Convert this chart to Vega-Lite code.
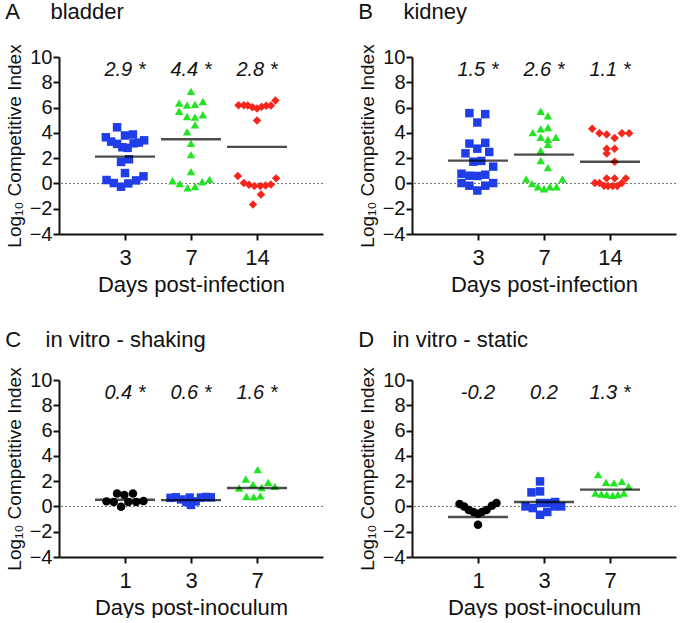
{
  "$schema": "https://vega.github.io/schema/vega-lite/v6.json",
  "background": "white",
  "padding": {"left": 5, "top": 0, "right": 0, "bottom": 0},
  "columns": 2,
  "spacing": {"row": 33, "column": 34},
  "datasets": {
    "pts": [
      {"p":"A","d":"3","x":0.88,"y":4.44},{"p":"A","d":"3","x":0.71,"y":3.65},{"p":"A","d":"3","x":0.79,"y":3.31},{"p":"A","d":"3","x":0.88,"y":3.13},{"p":"A","d":"3","x":0.96,"y":2.86},{"p":"A","d":"3","x":1.04,"y":2.81},{"p":"A","d":"3","x":1.0,"y":3.79},{"p":"A","d":"3","x":1.12,"y":3.87},{"p":"A","d":"3","x":1.13,"y":3.17},{"p":"A","d":"3","x":1.21,"y":3.23},{"p":"A","d":"3","x":1.29,"y":3.41},{"p":"A","d":"3","x":0.94,"y":1.70},{"p":"A","d":"3","x":1.06,"y":1.91},{"p":"A","d":"3","x":1.0,"y":0.82},{"p":"A","d":"3","x":0.72,"y":0.27},{"p":"A","d":"3","x":0.83,"y":0.03},{"p":"A","d":"3","x":0.94,"y":-0.26},{"p":"A","d":"3","x":1.05,"y":0.0},{"p":"A","d":"3","x":1.17,"y":0.24},{"p":"A","d":"3","x":1.28,"y":0.56},
      {"p":"A","d":"7","x":2.0,"y":7.28},{"p":"A","d":"7","x":1.82,"y":6.35},{"p":"A","d":"7","x":1.94,"y":6.19},{"p":"A","d":"7","x":2.06,"y":6.25},{"p":"A","d":"7","x":2.18,"y":6.48},{"p":"A","d":"7","x":1.82,"y":5.71},{"p":"A","d":"7","x":1.94,"y":5.29},{"p":"A","d":"7","x":2.06,"y":5.24},{"p":"A","d":"7","x":2.18,"y":5.43},{"p":"A","d":"7","x":2.06,"y":4.63},{"p":"A","d":"7","x":1.94,"y":4.08},{"p":"A","d":"7","x":2.0,"y":3.17},{"p":"A","d":"7","x":2.0,"y":2.28},{"p":"A","d":"7","x":2.0,"y":0.93},{"p":"A","d":"7","x":1.72,"y":0.21},{"p":"A","d":"7","x":1.83,"y":-0.02},{"p":"A","d":"7","x":1.95,"y":-0.34},{"p":"A","d":"7","x":2.06,"y":-0.24},{"p":"A","d":"7","x":2.17,"y":0.13},{"p":"A","d":"7","x":2.28,"y":0.32},
      {"p":"A","d":"14","x":2.72,"y":6.19},{"p":"A","d":"14","x":2.80,"y":6.19},{"p":"A","d":"14","x":2.86,"y":6.17},{"p":"A","d":"14","x":2.93,"y":6.03},{"p":"A","d":"14","x":3.0,"y":5.93},{"p":"A","d":"14","x":3.07,"y":6.06},{"p":"A","d":"14","x":3.14,"y":6.14},{"p":"A","d":"14","x":3.21,"y":6.17},{"p":"A","d":"14","x":3.28,"y":6.56},{"p":"A","d":"14","x":3.0,"y":4.98},{"p":"A","d":"14","x":2.71,"y":0.59},{"p":"A","d":"14","x":2.80,"y":0.03},{"p":"A","d":"14","x":2.88,"y":-0.10},{"p":"A","d":"14","x":2.96,"y":-0.21},{"p":"A","d":"14","x":3.05,"y":-0.21},{"p":"A","d":"14","x":3.13,"y":-0.16},{"p":"A","d":"14","x":3.21,"y":-0.08},{"p":"A","d":"14","x":3.29,"y":0.40},{"p":"A","d":"14","x":3.06,"y":-0.87},{"p":"A","d":"14","x":2.94,"y":-1.67},
      {"p":"B","d":"3","x":0.87,"y":5.56},{"p":"B","d":"3","x":1.11,"y":5.48},{"p":"B","d":"3","x":0.99,"y":4.82},{"p":"B","d":"3","x":0.87,"y":3.15},{"p":"B","d":"3","x":1.11,"y":3.21},{"p":"B","d":"3","x":0.99,"y":2.75},{"p":"B","d":"3","x":0.81,"y":2.38},{"p":"B","d":"3","x":1.17,"y":2.49},{"p":"B","d":"3","x":0.93,"y":1.72},{"p":"B","d":"3","x":1.05,"y":1.78},{"p":"B","d":"3","x":1.23,"y":1.33},{"p":"B","d":"3","x":0.75,"y":0.77},{"p":"B","d":"3","x":0.87,"y":0.61},{"p":"B","d":"3","x":0.99,"y":0.59},{"p":"B","d":"3","x":1.11,"y":0.69},{"p":"B","d":"3","x":0.75,"y":0.03},{"p":"B","d":"3","x":0.87,"y":-0.18},{"p":"B","d":"3","x":0.99,"y":-0.56},{"p":"B","d":"3","x":1.11,"y":-0.18},{"p":"B","d":"3","x":1.23,"y":0.03},
      {"p":"B","d":"7","x":1.95,"y":5.71},{"p":"B","d":"7","x":2.06,"y":5.35},{"p":"B","d":"7","x":1.95,"y":4.32},{"p":"B","d":"7","x":2.06,"y":4.42},{"p":"B","d":"7","x":1.83,"y":4.02},{"p":"B","d":"7","x":1.95,"y":3.65},{"p":"B","d":"7","x":2.06,"y":3.49},{"p":"B","d":"7","x":2.18,"y":3.65},{"p":"B","d":"7","x":2.06,"y":3.10},{"p":"B","d":"7","x":1.95,"y":2.60},{"p":"B","d":"7","x":1.95,"y":1.80},{"p":"B","d":"7","x":2.06,"y":1.25},{"p":"B","d":"7","x":1.73,"y":0.35},{"p":"B","d":"7","x":1.82,"y":-0.02},{"p":"B","d":"7","x":1.91,"y":-0.26},{"p":"B","d":"7","x":2.0,"y":-0.42},{"p":"B","d":"7","x":2.09,"y":-0.26},{"p":"B","d":"7","x":2.19,"y":-0.26},{"p":"B","d":"7","x":2.28,"y":0.35},
      {"p":"B","d":"14","x":2.73,"y":4.32},{"p":"B","d":"14","x":2.84,"y":3.97},{"p":"B","d":"14","x":2.95,"y":3.87},{"p":"B","d":"14","x":3.07,"y":3.60},{"p":"B","d":"14","x":3.18,"y":3.97},{"p":"B","d":"14","x":3.29,"y":3.97},{"p":"B","d":"14","x":2.95,"y":2.75},{"p":"B","d":"14","x":3.07,"y":2.75},{"p":"B","d":"14","x":2.95,"y":2.36},{"p":"B","d":"14","x":3.07,"y":1.72},{"p":"B","d":"14","x":2.95,"y":0.40},{"p":"B","d":"14","x":3.07,"y":0.40},{"p":"B","d":"14","x":3.24,"y":0.40},{"p":"B","d":"14","x":2.77,"y":0.03},{"p":"B","d":"14","x":2.84,"y":0.03},{"p":"B","d":"14","x":2.91,"y":-0.18},{"p":"B","d":"14","x":2.97,"y":-0.20},{"p":"B","d":"14","x":3.04,"y":-0.20},{"p":"B","d":"14","x":3.11,"y":-0.20},{"p":"B","d":"14","x":3.18,"y":0.03},
      {"p":"C","d":"1","x":0.72,"y":0.40},{"p":"C","d":"1","x":0.83,"y":0.35},{"p":"C","d":"1","x":0.88,"y":1.03},{"p":"C","d":"1","x":0.99,"y":0.90},{"p":"C","d":"1","x":1.12,"y":1.03},{"p":"C","d":"1","x":0.94,"y":-0.02},{"p":"C","d":"1","x":1.05,"y":0.35},{"p":"C","d":"1","x":1.17,"y":0.35},{"p":"C","d":"1","x":1.28,"y":0.43},
      {"p":"C","d":"3","x":1.69,"y":0.68},{"p":"C","d":"3","x":1.77,"y":0.72},{"p":"C","d":"3","x":1.85,"y":0.55},{"p":"C","d":"3","x":1.93,"y":0.35},{"p":"C","d":"3","x":2.0,"y":0.12},{"p":"C","d":"3","x":2.07,"y":0.40},{"p":"C","d":"3","x":2.15,"y":0.70},{"p":"C","d":"3","x":2.23,"y":0.75},{"p":"C","d":"3","x":2.30,"y":0.72},{"p":"C","d":"3","x":1.98,"y":0.70},
      {"p":"C","d":"7","x":3.01,"y":2.91},{"p":"C","d":"7","x":2.83,"y":2.17},{"p":"C","d":"7","x":2.73,"y":1.46},{"p":"C","d":"7","x":3.17,"y":1.90},{"p":"C","d":"7","x":3.27,"y":1.59},{"p":"C","d":"7","x":2.84,"y":0.79},{"p":"C","d":"7","x":3.05,"y":0.83},{"p":"C","d":"7","x":2.95,"y":0.75},{"p":"C","d":"7","x":2.94,"y":1.75},{"p":"C","d":"7","x":3.07,"y":1.50},
      {"p":"D","d":"1","x":0.72,"y":0.19},{"p":"D","d":"1","x":0.79,"y":0.0},{"p":"D","d":"1","x":0.86,"y":-0.29},{"p":"D","d":"1","x":0.93,"y":-0.44},{"p":"D","d":"1","x":1.0,"y":-0.58},{"p":"D","d":"1","x":1.06,"y":-0.44},{"p":"D","d":"1","x":1.13,"y":-0.29},{"p":"D","d":"1","x":1.21,"y":0.05},{"p":"D","d":"1","x":1.28,"y":0.27},{"p":"D","d":"1","x":1.0,"y":-1.45},
      {"p":"D","d":"3","x":1.94,"y":1.98},{"p":"D","d":"3","x":1.81,"y":1.11},{"p":"D","d":"3","x":1.94,"y":1.19},{"p":"D","d":"3","x":1.72,"y":0.0},{"p":"D","d":"3","x":1.83,"y":-0.13},{"p":"D","d":"3","x":1.94,"y":0.27},{"p":"D","d":"3","x":2.06,"y":0.27},{"p":"D","d":"3","x":2.17,"y":0.35},{"p":"D","d":"3","x":2.05,"y":-0.44},{"p":"D","d":"3","x":1.94,"y":-0.66},{"p":"D","d":"3","x":2.26,"y":0.0},{"p":"D","d":"3","x":2.16,"y":0.0},
      {"p":"D","d":"7","x":2.82,"y":2.51},{"p":"D","d":"7","x":2.94,"y":1.90},{"p":"D","d":"7","x":3.06,"y":1.86},{"p":"D","d":"7","x":3.18,"y":1.98},{"p":"D","d":"7","x":3.28,"y":1.59},{"p":"D","d":"7","x":2.78,"y":1.06},{"p":"D","d":"7","x":2.87,"y":0.98},{"p":"D","d":"7","x":2.95,"y":0.93},{"p":"D","d":"7","x":3.04,"y":0.88},{"p":"D","d":"7","x":3.12,"y":0.93},{"p":"D","d":"7","x":3.21,"y":1.06}
    ],
    "means": [
      {"p":"A","x":1,"m":2.12},{"p":"A","x":2,"m":3.49},{"p":"A","x":3,"m":2.89},
      {"p":"B","x":1,"m":1.80},{"p":"B","x":2,"m":2.28},{"p":"B","x":3,"m":1.72},
      {"p":"C","x":1,"m":0.53},{"p":"C","x":2,"m":0.50},{"p":"C","x":3,"m":1.46},
      {"p":"D","x":1,"m":-0.84},{"p":"D","x":2,"m":0.35},{"p":"D","x":3,"m":1.33}
    ],
    "labs": [
      {"p":"A","x":1,"t":"2.9 *"},{"p":"A","x":2,"t":"4.4 *"},{"p":"A","x":3,"t":"2.8 *"},
      {"p":"B","x":1,"t":"1.5 *"},{"p":"B","x":2,"t":"2.6 *"},{"p":"B","x":3,"t":"1.1 *"},
      {"p":"C","x":1,"t":"0.4 *"},{"p":"C","x":2,"t":"0.6 *"},{"p":"C","x":3,"t":"1.6 *"},
      {"p":"D","x":1,"t":"-0.2"},{"p":"D","x":2,"t":"0.2"},{"p":"D","x":3,"t":"1.3 *"}
    ]
  },
  "concat": [
    {
      "width": 264, "height": 177,
      "title": {"text": "A\u00a0\u00a0\u00a0\u00a0\u00a0bladder", "offset": 20},
      "layer": [
        {"data": {"values": [{}]}, "mark": {"type": "rule", "color": "#707070", "strokeDash": [2, 2], "strokeWidth": 1},
         "encoding": {"y": {"datum": 0, "type": "quantitative", "scale": {"domain": [-4, 10]}, "axis": {"title": "Log₁₀ Competitive Index", "values": [-4,-2,0,2,4,6,8,10]}}}},
        {"data": {"name": "pts"}, "transform": [{"filter": "datum.p == 'A'"}],
         "mark": {"type": "point", "filled": true, "opacity": 1, "size": 72},
         "encoding": {
           "x": {"field": "x", "type": "quantitative", "scale": {"domain": [0.5, 3.5]}, "axis": {"title": "Days post-infection", "values": [1, 2, 3], "labelExpr": "datum.value == 1 ? '3' : datum.value == 2 ? '7' : '14'"}},
           "y": {"field": "y", "type": "quantitative", "axis": {"title": "Log₁₀ Competitive Index", "values": [-4,-2,0,2,4,6,8,10]}},
           "color": {"field": "d", "type": "nominal", "scale": {"domain": ["1","3","7","14"], "range": ["#000000","#1f3ee8","#22e422","#f5261c"]}, "legend": null},
           "shape": {"field": "d", "type": "nominal", "scale": {"domain": ["1","3","7","14"], "range": ["circle","square","triangle-up","diamond"]}, "legend": null}
         }},
        {"data": {"name": "means"}, "transform": [{"filter": "datum.p == 'A'"}],
         "mark": {"type": "tick", "orient": "horizontal", "size": 60, "thickness": 2.4, "color": "#000000"},
         "encoding": {
           "x": {"field": "x", "type": "quantitative", "axis": {"title": "Days post-infection", "values": [1, 2, 3], "labelExpr": "datum.value == 1 ? '3' : datum.value == 2 ? '7' : '14'"}},
           "y": {"field": "m", "type": "quantitative", "axis": {"title": "Log₁₀ Competitive Index", "values": [-4,-2,0,2,4,6,8,10]}}
         }},
        {"data": {"name": "labs"}, "transform": [{"filter": "datum.p == 'A'"}],
         "mark": {"type": "text", "fontStyle": "italic", "fontSize": 20, "font": "Liberation Sans", "baseline": "middle", "color": "#111111"},
         "encoding": {
           "x": {"field": "x", "type": "quantitative", "axis": {"title": "Days post-infection", "values": [1, 2, 3], "labelExpr": "datum.value == 1 ? '3' : datum.value == 2 ? '7' : '14'"}},
           "y": {"datum": 8.95, "type": "quantitative", "axis": {"title": "Log₁₀ Competitive Index", "values": [-4,-2,0,2,4,6,8,10]}},
           "text": {"field": "t"}
         }}
      ]
    },
    {
      "width": 264, "height": 177,
      "title": {"text": "B\u00a0\u00a0\u00a0\u00a0\u00a0kidney", "offset": 20},
      "layer": [
        {"data": {"values": [{}]}, "mark": {"type": "rule", "color": "#707070", "strokeDash": [2, 2], "strokeWidth": 1},
         "encoding": {"y": {"datum": 0, "type": "quantitative", "scale": {"domain": [-4, 10]}, "axis": {"title": "Log₁₀ Competitive Index", "values": [-4,-2,0,2,4,6,8,10]}}}},
        {"data": {"name": "pts"}, "transform": [{"filter": "datum.p == 'B'"}],
         "mark": {"type": "point", "filled": true, "opacity": 1, "size": 72},
         "encoding": {
           "x": {"field": "x", "type": "quantitative", "scale": {"domain": [0.5, 3.5]}, "axis": {"title": "Days post-infection", "values": [1, 2, 3], "labelExpr": "datum.value == 1 ? '3' : datum.value == 2 ? '7' : '14'"}},
           "y": {"field": "y", "type": "quantitative", "axis": {"title": "Log₁₀ Competitive Index", "values": [-4,-2,0,2,4,6,8,10]}},
           "color": {"field": "d", "type": "nominal", "scale": {"domain": ["1","3","7","14"], "range": ["#000000","#1f3ee8","#22e422","#f5261c"]}, "legend": null},
           "shape": {"field": "d", "type": "nominal", "scale": {"domain": ["1","3","7","14"], "range": ["circle","square","triangle-up","diamond"]}, "legend": null}
         }},
        {"data": {"name": "means"}, "transform": [{"filter": "datum.p == 'B'"}],
         "mark": {"type": "tick", "orient": "horizontal", "size": 60, "thickness": 2.4, "color": "#000000"},
         "encoding": {
           "x": {"field": "x", "type": "quantitative", "axis": {"title": "Days post-infection", "values": [1, 2, 3], "labelExpr": "datum.value == 1 ? '3' : datum.value == 2 ? '7' : '14'"}},
           "y": {"field": "m", "type": "quantitative", "axis": {"title": "Log₁₀ Competitive Index", "values": [-4,-2,0,2,4,6,8,10]}}
         }},
        {"data": {"name": "labs"}, "transform": [{"filter": "datum.p == 'B'"}],
         "mark": {"type": "text", "fontStyle": "italic", "fontSize": 20, "font": "Liberation Sans", "baseline": "middle", "color": "#111111"},
         "encoding": {
           "x": {"field": "x", "type": "quantitative", "axis": {"title": "Days post-infection", "values": [1, 2, 3], "labelExpr": "datum.value == 1 ? '3' : datum.value == 2 ? '7' : '14'"}},
           "y": {"datum": 8.95, "type": "quantitative", "axis": {"title": "Log₁₀ Competitive Index", "values": [-4,-2,0,2,4,6,8,10]}},
           "text": {"field": "t"}
         }}
      ]
    },
    {
      "width": 264, "height": 177,
      "title": {"text": "C\u00a0\u00a0\u00a0\u00a0in vitro - shaking", "offset": 15},
      "layer": [
        {"data": {"values": [{}]}, "mark": {"type": "rule", "color": "#707070", "strokeDash": [2, 2], "strokeWidth": 1},
         "encoding": {"y": {"datum": 0, "type": "quantitative", "scale": {"domain": [-4, 10]}, "axis": {"title": "Log₁₀ Competitive Index", "values": [-4,-2,0,2,4,6,8,10]}}}},
        {"data": {"name": "pts"}, "transform": [{"filter": "datum.p == 'C'"}],
         "mark": {"type": "point", "filled": true, "opacity": 1, "size": 72},
         "encoding": {
           "x": {"field": "x", "type": "quantitative", "scale": {"domain": [0.5, 3.5]}, "axis": {"title": "Days post-inoculum", "values": [1, 2, 3], "labelExpr": "datum.value == 1 ? '1' : datum.value == 2 ? '3' : '7'"}},
           "y": {"field": "y", "type": "quantitative", "axis": {"title": "Log₁₀ Competitive Index", "values": [-4,-2,0,2,4,6,8,10]}},
           "color": {"field": "d", "type": "nominal", "scale": {"domain": ["1","3","7","14"], "range": ["#000000","#1f3ee8","#22e422","#f5261c"]}, "legend": null},
           "shape": {"field": "d", "type": "nominal", "scale": {"domain": ["1","3","7","14"], "range": ["circle","square","triangle-up","diamond"]}, "legend": null}
         }},
        {"data": {"name": "means"}, "transform": [{"filter": "datum.p == 'C'"}],
         "mark": {"type": "tick", "orient": "horizontal", "size": 60, "thickness": 2.4, "color": "#000000"},
         "encoding": {
           "x": {"field": "x", "type": "quantitative", "axis": {"title": "Days post-inoculum", "values": [1, 2, 3], "labelExpr": "datum.value == 1 ? '1' : datum.value == 2 ? '3' : '7'"}},
           "y": {"field": "m", "type": "quantitative", "axis": {"title": "Log₁₀ Competitive Index", "values": [-4,-2,0,2,4,6,8,10]}}
         }},
        {"data": {"name": "labs"}, "transform": [{"filter": "datum.p == 'C'"}],
         "mark": {"type": "text", "fontStyle": "italic", "fontSize": 20, "font": "Liberation Sans", "baseline": "middle", "color": "#111111"},
         "encoding": {
           "x": {"field": "x", "type": "quantitative", "axis": {"title": "Days post-inoculum", "values": [1, 2, 3], "labelExpr": "datum.value == 1 ? '1' : datum.value == 2 ? '3' : '7'"}},
           "y": {"datum": 8.95, "type": "quantitative", "axis": {"title": "Log₁₀ Competitive Index", "values": [-4,-2,0,2,4,6,8,10]}},
           "text": {"field": "t"}
         }}
      ]
    },
    {
      "width": 264, "height": 177,
      "title": {"text": "D\u00a0\u00a0\u00a0in vitro - static", "offset": 15},
      "layer": [
        {"data": {"values": [{}]}, "mark": {"type": "rule", "color": "#707070", "strokeDash": [2, 2], "strokeWidth": 1},
         "encoding": {"y": {"datum": 0, "type": "quantitative", "scale": {"domain": [-4, 10]}, "axis": {"title": "Log₁₀ Competitive Index", "values": [-4,-2,0,2,4,6,8,10]}}}},
        {"data": {"name": "pts"}, "transform": [{"filter": "datum.p == 'D'"}],
         "mark": {"type": "point", "filled": true, "opacity": 1, "size": 72},
         "encoding": {
           "x": {"field": "x", "type": "quantitative", "scale": {"domain": [0.5, 3.5]}, "axis": {"title": "Days post-inoculum", "values": [1, 2, 3], "labelExpr": "datum.value == 1 ? '1' : datum.value == 2 ? '3' : '7'"}},
           "y": {"field": "y", "type": "quantitative", "axis": {"title": "Log₁₀ Competitive Index", "values": [-4,-2,0,2,4,6,8,10]}},
           "color": {"field": "d", "type": "nominal", "scale": {"domain": ["1","3","7","14"], "range": ["#000000","#1f3ee8","#22e422","#f5261c"]}, "legend": null},
           "shape": {"field": "d", "type": "nominal", "scale": {"domain": ["1","3","7","14"], "range": ["circle","square","triangle-up","diamond"]}, "legend": null}
         }},
        {"data": {"name": "means"}, "transform": [{"filter": "datum.p == 'D'"}],
         "mark": {"type": "tick", "orient": "horizontal", "size": 60, "thickness": 2.4, "color": "#000000"},
         "encoding": {
           "x": {"field": "x", "type": "quantitative", "axis": {"title": "Days post-inoculum", "values": [1, 2, 3], "labelExpr": "datum.value == 1 ? '1' : datum.value == 2 ? '3' : '7'"}},
           "y": {"field": "m", "type": "quantitative", "axis": {"title": "Log₁₀ Competitive Index", "values": [-4,-2,0,2,4,6,8,10]}}
         }},
        {"data": {"name": "labs"}, "transform": [{"filter": "datum.p == 'D'"}],
         "mark": {"type": "text", "fontStyle": "italic", "fontSize": 20, "font": "Liberation Sans", "baseline": "middle", "color": "#111111"},
         "encoding": {
           "x": {"field": "x", "type": "quantitative", "axis": {"title": "Days post-inoculum", "values": [1, 2, 3], "labelExpr": "datum.value == 1 ? '1' : datum.value == 2 ? '3' : '7'"}},
           "y": {"datum": 8.95, "type": "quantitative", "axis": {"title": "Log₁₀ Competitive Index", "values": [-4,-2,0,2,4,6,8,10]}},
           "text": {"field": "t"}
         }}
      ]
    }
  ],
  "config": {
    "view": {"stroke": null},
    "font": "Liberation Sans",
    "axis": {
      "grid": false, "domainColor": "#111111", "domainWidth": 2, "tickColor": "#111111", "tickWidth": 2, "tickSize": 6,
      "labelFont": "Liberation Sans", "labelColor": "#111111", "titleFont": "Liberation Sans", "titleColor": "#111111", "titleFontWeight": "normal"
    },
    "axisX": {"labelFontSize": 22, "labelPadding": 7, "titleFontSize": 22, "titlePadding": 6},
    "axisY": {"labelFontSize": 20, "labelPadding": 1, "titleFontSize": 19, "titlePadding": 5},
    "title": {"font": "Liberation Sans", "fontSize": 22, "fontWeight": "normal", "color": "#111111", "anchor": "start", "frame": "bounds", "baseline": "alphabetic"}
  }
}
